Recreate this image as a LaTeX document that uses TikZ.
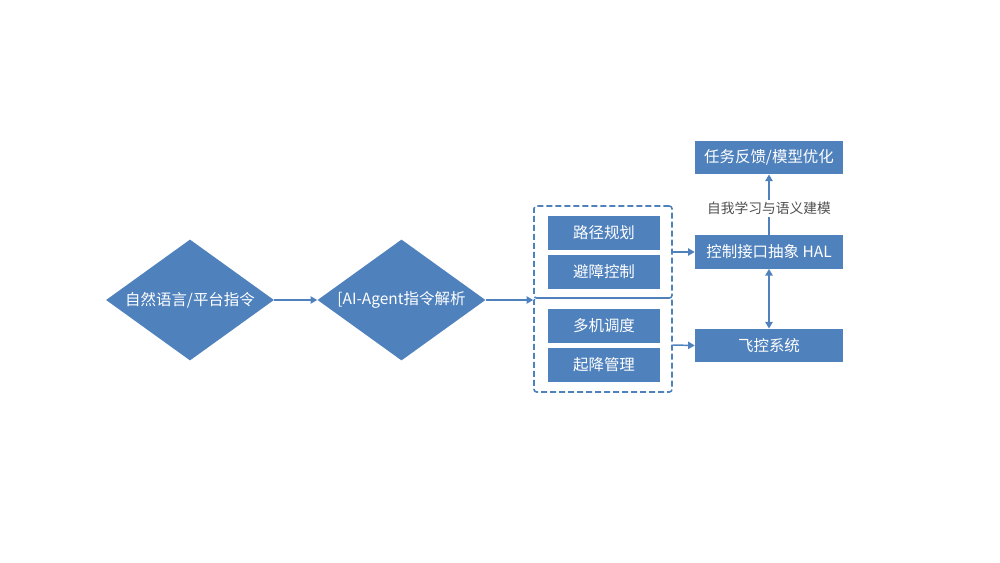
\documentclass[tikz,border=0pt]{standalone}
\usepackage{fontspec}
\setmainfont{Noto Sans CJK SC}
\usetikzlibrary{shapes.geometric,arrows.meta}
\definecolor{boxblue}{HTML}{4F81BD}
\definecolor{labelgray}{HTML}{505050}
\begin{document}
\begin{tikzpicture}[x=0.75pt,y=-0.75pt,
  txt/.style={text=white,font=\fontsize{11.6pt}{13pt}\selectfont},
  dia/.style={diamond,fill=boxblue,draw=none,inner sep=0pt,minimum width=126pt,minimum height=90.75pt},
  ibox/.style={txt,fill=boxblue,draw=none,inner sep=0pt,minimum width=84pt,minimum height=25.5pt},
  rbox/.style={txt,fill=boxblue,draw=none,inner sep=0pt,minimum width=111pt,minimum height=25pt},
  grp/.style={draw=boxblue,dash pattern=on 4.5pt off 2.25pt,line width=1.2pt,rounded corners=2pt,minimum width=103.5pt,inner sep=0pt},
  conn/.style={draw=boxblue,line width=1.1pt,-{Triangle[length=5pt,width=5.5pt]}},
  conn2/.style={draw=boxblue,line width=1.1pt,{Triangle[length=5pt,width=5.5pt]}-{Triangle[length=5pt,width=5.5pt]}},
  lbl/.style={fill=white,text=labelgray,inner sep=1.5pt,font=\fontsize{10.3pt}{12pt}\selectfont}]
\useasboundingbox (0,0) rectangle (1000,563);
% diamonds
\node[dia] (d1) at (190,300) {};
\node[txt] (d1t) at (d1.center) {自然语言/平台指令};
\node[dia] (d2) at (401.5,300) {};
\node[txt] (d2t) at (d2.center) {[AI-Agent指令解析};
% groups
\node[grp,minimum height=69pt] (ga) at (603,252) {};
\node[grp,minimum height=70.5pt] (gb) at (603,345) {};
% inner boxes
\node[ibox] (b1) at (604,233) {路径规划};
\node[ibox] (b2) at (604,272) {避障控制};
\node[ibox] (b3) at (604,326) {多机调度};
\node[ibox] (b4) at (604,365) {起降管理};
% right boxes
\node[rbox] (task) at (769,157.5) {任务反馈/模型优化};
\node[rbox] (hal) at (769,252) {控制接口抽象 HAL};
\node[rbox] (fly) at (769,345.5) {飞控系统};
% connectors
\draw[conn] (d1.east) -- (d2.west);
\draw[conn] (d2.east) -- (d2.east -| ga.west);
\draw[conn] (ga.east) -- (hal.west);
\draw[conn] (gb.east) -- (fly.west);
\draw[conn] (hal.north) -- node[lbl,pos=0.44] (lab) {自我学习与语义建模} (task.south);
\draw[conn2] (hal.south) -- (fly.north);
\end{tikzpicture}
\end{document}
